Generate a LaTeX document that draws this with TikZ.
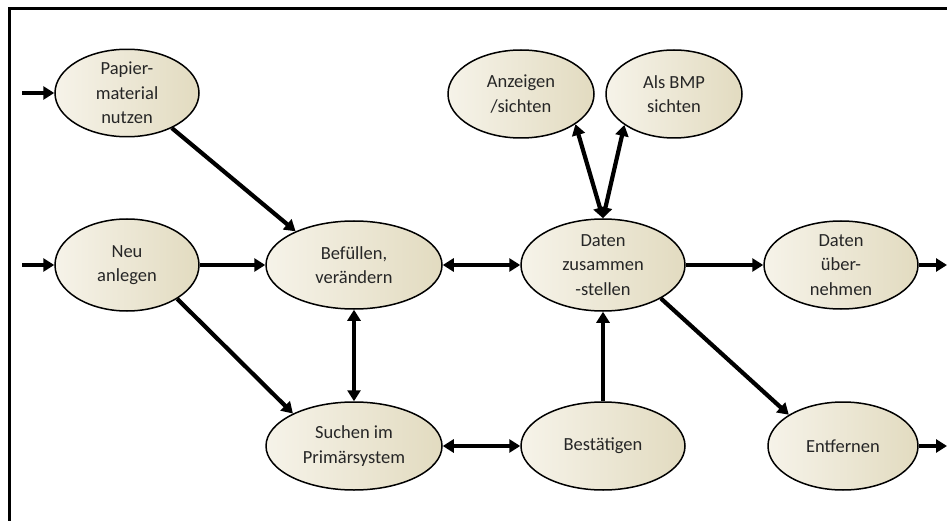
\documentclass[tikz,border=0pt]{standalone}
\usepackage{fontspec}
\setmainfont{Carlito}
\usetikzlibrary{shapes.geometric,arrows.meta}
\definecolor{fillA}{RGB}{246,243,233}
\definecolor{fillB}{RGB}{226,219,192}
\definecolor{txt}{RGB}{38,38,38}
\tikzset{
  ell/.style={ellipse, draw=black, line width=1.5pt, left color=fillA, right color=fillB,
    align=center, inner sep=0pt, text=txt, font=\fontsize{18.5}{24.5}\selectfont},
  arr/.style={line width=4.2pt, -{Triangle[length=11pt,width=13pt]}},
  darr/.style={line width=4.2pt, {Triangle[length=11pt,width=13pt]}-{Triangle[length=11pt,width=13pt]}}
}
\begin{document}
\begin{tikzpicture}[x=1pt,y=-1pt]
\useasboundingbox (0,0) rectangle (947,521);
\draw[line width=3pt] (9.5,521) -- (9.5,8.5) -- (947,8.5);

\node[ell, minimum width=144pt, minimum height=87pt] (pap) at (127,93) {Papier-\\material\\nutzen};
\node[ell, minimum width=144pt, minimum height=92pt] (neu) at (127,265) {Neu\\anlegen};
\node[ell, minimum width=176pt, minimum height=88pt] (bef) at (354,265) {Befüllen,\\verändern};
\node[ell, minimum width=176pt, minimum height=88pt] (such) at (354,446) {Suchen im\\Primärsystem};
\node[ell, minimum width=164pt, minimum height=92pt] (dat) at (603,265) {Daten\\zusammen\\-stellen};
\node[ell, minimum width=164pt, minimum height=88pt] (best) at (603,446) {Bestätigen};
\node[ell, minimum width=146pt, minimum height=88pt] (anz) at (521,94) {Anzeigen\\/sichten};
\node[ell, minimum width=136pt, minimum height=88pt] (bmp) at (674,94) {Als BMP\\sichten};
\node[ell, minimum width=154pt, minimum height=88pt] (ueb) at (841,265) {Daten\\über-\\nehmen};
\node[ell, minimum width=150pt, minimum height=88pt] (entf) at (843,446) {Entfernen};

\coordinate (inpap) at (22,93);
\coordinate (inneu) at (22,265);
\coordinate (outueb) at (947,265);
\coordinate (outentf) at (947,446);

\draw[arr] (inpap) -- (pap.west);
\draw[arr] (inneu) -- (neu.west);
\draw[arr] (pap.-38) -- (bef.150);
\draw[arr] (neu.east) -- (bef.west);
\draw[arr] (neu.-34) -- (such.152);
\draw[darr] (bef.south) -- (such.north);
\draw[darr] (bef.east) -- (dat.west);
\draw[darr] (such.east) -- (best.west);
\draw[arr] (best.north) -- (dat.south);
\draw[darr] (anz.-29) -- (dat.north);
\draw[darr] (bmp.212) -- (dat.north);
\draw[arr] (dat.east) -- (ueb.west);
\draw[arr] (dat.-30) -- (entf.150);
\draw[arr] (ueb.east) -- (outueb);
\draw[arr] (entf.east) -- (outentf);
\end{tikzpicture}
\end{document}
